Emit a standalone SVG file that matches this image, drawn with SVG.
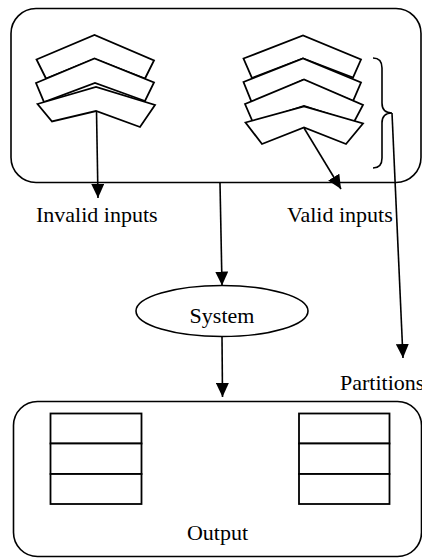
<svg xmlns="http://www.w3.org/2000/svg" width="422" height="559" viewBox="0 0 422 559">
  <style>
    .frame { fill: #fff; stroke: #000; stroke-width: 1.6; }
    .chev { fill: #fff; stroke: #000; stroke-width: 1.8; stroke-linejoin: miter; }
    .cell { fill: #fff; stroke: #000; stroke-width: 1.8; }
    .wire { fill: none; stroke: #000; stroke-width: 1.6; }
    .label { font-family: "Liberation Serif", "Times New Roman", serif; font-size: 22px; fill: #000; }
  </style>
  <defs>
    <marker id="arrow" markerUnits="userSpaceOnUse" markerWidth="14" markerHeight="13" refX="14" refY="6.5" orient="auto" viewBox="0 0 14 13">
      <path d="M0,0 L14,6.5 L0,13 Z" fill="#000"/>
    </marker>
  </defs>

  <rect width="422" height="559" fill="#fff"/>

  <!-- input domain -->
  <g id="inputs">
    <rect class="frame" x="11" y="8.5" width="410" height="174" rx="25" ry="25"/>
    <g id="invalid-set">
      <polygon class="chev" points="36.5,59.5 94.5,35 154,60.5 145,78.5 94.5,59 46,78.5"/>
      <polygon class="chev" points="36,83 94.5,58.5 154,82.5 145,101 95,83 44,102"/>
      <polygon class="chev" points="37.5,104 96,87 155,105 140,127 96,111 52,121.5"/>
    </g>
    <g id="valid-set">
      <polygon class="chev" points="243.5,58.5 303,35.5 361,59.5 353,77.5 303,58.5 252,78"/>
      <polygon class="chev" points="243.5,82 303,58.5 361,82.5 353,101 303,80 252,103"/>
      <polygon class="chev" points="245,104 304,79.5 363,105 354,122 304,106 253,122.5"/>
      <polygon class="chev" points="245.5,122.5 304,106.5 363,123.5 346,144 304,127.5 262,144"/>
    </g>
    <path id="brace" class="wire" d="M373,58 Q382,58 382,68 L382,103 Q382,113 392,113 Q382,113 382,123 L382,158 Q382,168 373,168"/>
  </g>

  <g id="invalid-label">
    <text class="label" x="36" y="222">Invalid inputs</text>
  </g>
  <g id="valid-label">
    <text class="label" x="287" y="222">Valid inputs</text>
  </g>

  <g id="system">
    <ellipse class="frame" cx="222" cy="311" rx="86" ry="25.5"/>
    <text class="label" x="222" y="323" text-anchor="middle">System</text>
  </g>

  <g id="partitions-label">
    <text class="label" x="340" y="390">Partitions</text>
  </g>

  <!-- output domain -->
  <g id="output">
    <rect class="frame" x="13.5" y="401.5" width="408" height="155" rx="24" ry="24"/>
    <g id="table-left">
      <rect class="cell" x="50.5" y="413.5" width="91" height="30"/>
      <rect class="cell" x="50.5" y="443.5" width="91" height="30.5"/>
      <rect class="cell" x="50.5" y="474" width="91" height="30"/>
    </g>
    <g id="table-right">
      <rect class="cell" x="299" y="413.5" width="90.5" height="30"/>
      <rect class="cell" x="299" y="443.5" width="90.5" height="30.5"/>
      <rect class="cell" x="299" y="474" width="90.5" height="30"/>
    </g>
    <text class="label" x="217.5" y="540" text-anchor="middle">Output</text>
  </g>

  <g id="connectors">
    <line class="wire" x1="96.5" y1="111" x2="98" y2="198" marker-end="url(#arrow)"/>
    <line class="wire" x1="304" y1="128" x2="341" y2="189" marker-end="url(#arrow)"/>
    <line class="wire" x1="220" y1="183" x2="222" y2="285.5" marker-end="url(#arrow)"/>
    <line class="wire" x1="222" y1="336.5" x2="222.5" y2="397" marker-end="url(#arrow)"/>
    <line class="wire" x1="392" y1="113" x2="403" y2="358" marker-end="url(#arrow)"/>
  </g>
</svg>
